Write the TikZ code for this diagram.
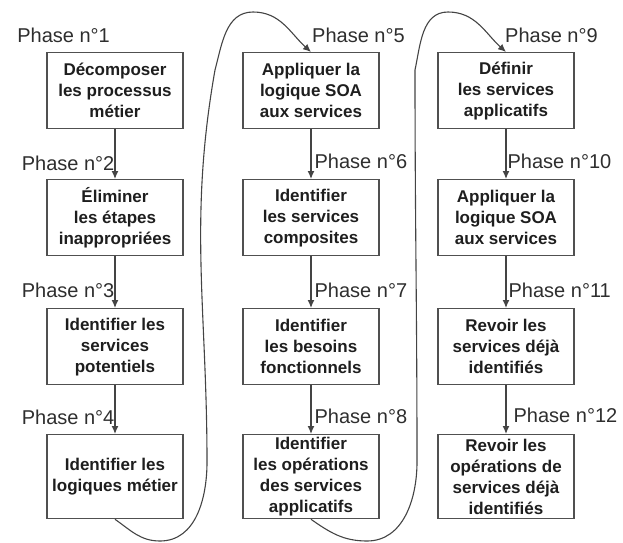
\documentclass[tikz,border=0pt]{standalone}
\usepackage{fontspec}
\setmainfont{Liberation Sans}
\usepackage{xcolor}
\usetikzlibrary{arrows.meta,positioning}
\definecolor{boxgray}{HTML}{505050}
\definecolor{linegray}{HTML}{444444}
\definecolor{textgray}{HTML}{1E1E1E}
\definecolor{labelgray}{HTML}{2E2E2E}

\begin{document}
\begin{tikzpicture}[x=1pt, y=1pt, >={Latex[length=8pt,width=7pt]},
    phasebox/.style={rectangle, draw=boxgray, line width=1.3pt, minimum width=136pt, minimum height=76pt, inner xsep=0pt, inner ysep=2pt, align=center, anchor=north, text=textgray, font=\bfseries\fontsize{17}{21}\selectfont},
    tallbox/.style={phasebox, minimum height=84pt},
    phaselabel/.style={inner sep=0pt, text=labelgray, font=\fontsize{20}{24}\selectfont},
    flow/.style={->, draw=linegray, line width=1.3pt},
    loopback/.style={->, draw=linegray, line width=1.1pt}]
    \useasboundingbox (0,0) rectangle (623,542);

    \def\colA{115}
    \def\colB{311}
    \def\colC{506}
    \def\rowA{490}
    \def\rowB{363}
    \def\rowC{234}
    \def\rowD{108}

    % Column 1
    \node[phasebox] (b1) at (\colA, \rowA) {Décomposer\\les processus\\métier};
    \node[phasebox] (b2) at (\colA, \rowB) {Éliminer\\les étapes\\inappropriées};
    \node[phasebox] (b3) at (\colA, \rowC) {Identifier les\\services\\potentiels};
    \node[tallbox] (b4) at (\colA, \rowD) {Identifier les\\logiques métier};

    % Column 2
    \node[phasebox] (b5) at (\colB, \rowA) {Appliquer la\\logique SOA\\aux services};
    \node[phasebox] (b6) at (\colB, \rowB) {Identifier\\les services\\composites};
    \node[phasebox] (b7) at (\colB, \rowC) {Identifier\\les besoins\\fonctionnels};
    \node[tallbox] (b8) at (\colB, \rowD) {Identifier\\les opérations\\des services\\applicatifs};

    % Column 3
    \node[phasebox] (b9) at (\colC, \rowA) {Définir\\les services\\applicatifs};
    \node[phasebox] (b10) at (\colC, \rowB) {Appliquer la\\logique SOA\\aux services};
    \node[phasebox] (b11) at (\colC, \rowC) {Revoir les\\services déjà\\identifiés};
    \node[tallbox] (b12) at (\colC, \rowD) {Revoir les\\opérations de\\services déjà\\identifiés};

    % Labels of the first phases
    \node[phaselabel, anchor=base east, xshift=-5pt, yshift=9pt] (lab1) at (b1.north) {Phase n°1};
    \node[phaselabel, anchor=base west, xshift=1pt, yshift=9pt] (lab5) at (b5.north) {Phase n°5};
    \node[phaselabel, anchor=base west, xshift=-1pt, yshift=9pt] (lab9) at (b9.north) {Phase n°9};

    % Arrows
    \draw[flow] (b1) -- (b2) node[phaselabel, pos=1, anchor=base east, yshift=9pt] (lab2) {Phase n°2};
    \draw[flow] (b2) -- (b3) node[phaselabel, pos=1, anchor=base east, yshift=11pt] (lab3) {Phase n°3};
    \draw[flow] (b3) -- (b4) node[phaselabel, pos=1, anchor=base east, yshift=10pt] (lab4) {Phase n°4};
    \draw[flow] (b5) -- (b6) node[phaselabel, pos=1, anchor=base west, xshift=3pt, yshift=11pt] (lab6) {Phase n°6};
    \draw[flow] (b6) -- (b7) node[phaselabel, pos=1, anchor=base west, xshift=3pt, yshift=11pt] (lab7) {Phase n°7};
    \draw[flow] (b7) -- (b8) node[phaselabel, pos=1, anchor=base west, xshift=3pt, yshift=11pt] (lab8) {Phase n°8};
    \draw[flow] (b9) -- (b10) node[phaselabel, pos=1, anchor=base west, xshift=1pt, yshift=11pt] (lab10) {Phase n°10};
    \draw[flow] (b10) -- (b11) node[phaselabel, pos=1, anchor=base west, xshift=2pt, yshift=11pt] (lab11) {Phase n°11};
    \draw[flow] (b11) -- (b12) node[phaselabel, pos=1, anchor=base west, xshift=7pt, yshift=12pt] (lab12) {Phase n°12};

    % Loops to the next column
    \draw[loopback] (b4.south) to[out=-35, in=180] (160,1) to[out=0, in=-90] (207,80)
        to[out=90, in=-100] (215,472) to[out=75, in=180] (253,530) to[out=0, in=138] (b5.north);
    \draw[loopback] (b8.south) to[out=-35, in=180] (367,1) to[out=0, in=-90] (417,80)
        to[out=90, in=-90] (415,472) to[out=78, in=180] (448,530) to[out=0, in=138] (b9.north);
\end{tikzpicture}
\end{document}
